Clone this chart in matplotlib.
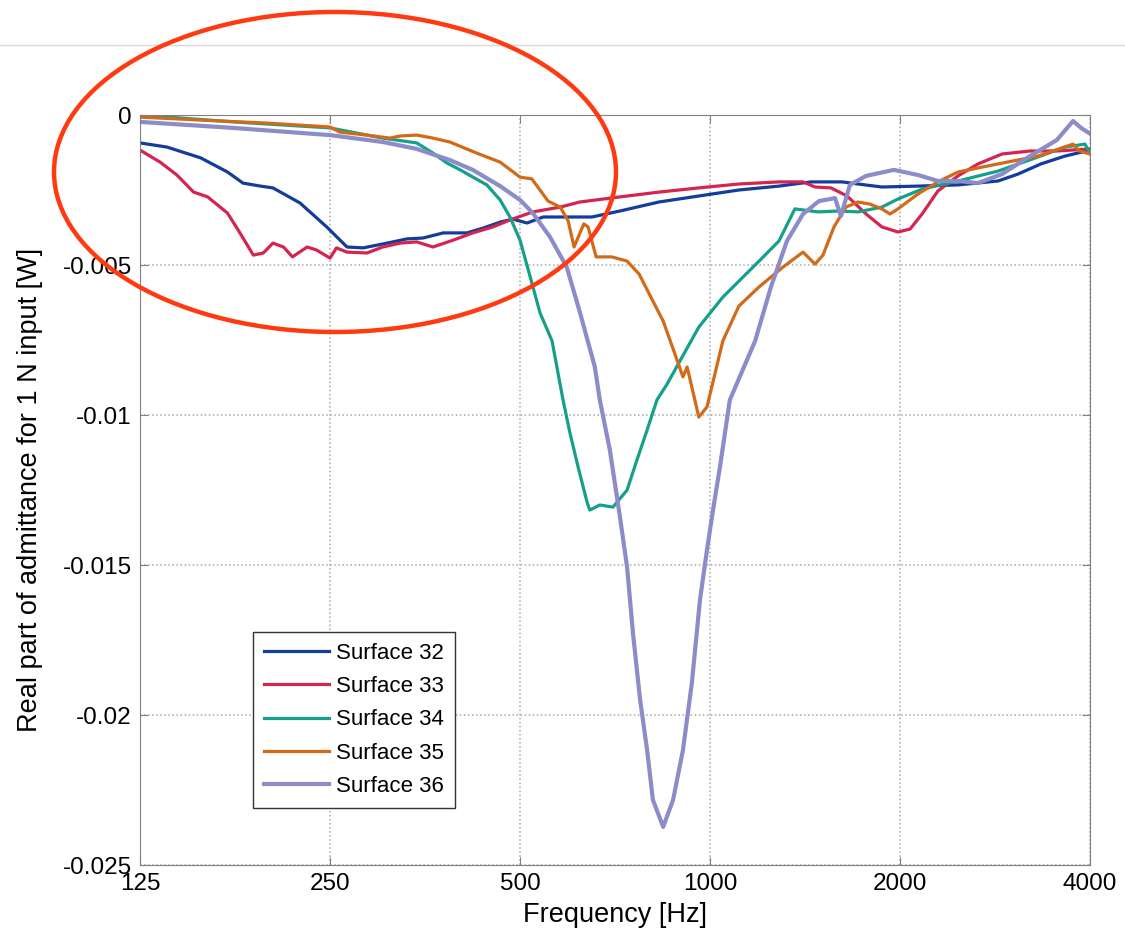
import matplotlib
matplotlib.use("Agg")
import matplotlib.pyplot as plt
from matplotlib.patches import Ellipse
from matplotlib.lines import Line2D
from matplotlib.ticker import NullLocator

plt.rcParams['font.family'] = ['Liberation Sans', 'DejaVu Sans']

# frequenze [Hz] e parte reale dell'ammettenza per ciascuna superficie
f32 = [125, 138, 156, 172, 182, 194, 203, 224, 247, 266, 282, 308, 331, 351, 378, 412, 437, 465, 487, 513,
       544, 593, 650, 720, 830, 960, 1111, 1286, 1445, 1619, 1716, 1872, 2136, 2471, 2860, 3075, 3345, 3650, 4000]
y32 = [-0.00093, -0.00107, -0.00143, -0.0019, -0.00227, -0.00237, -0.00243, -0.00293, -0.00373, -0.0044,
       -0.00443, -0.00427, -0.00413, -0.0041, -0.00393, -0.00393, -0.00377, -0.00357, -0.00347, -0.0036,
       -0.0034, -0.0034, -0.0034, -0.0032, -0.0029, -0.0027, -0.0025, -0.00237, -0.00223, -0.00223,
       -0.0023, -0.0024, -0.00237, -0.00233, -0.0022, -0.00197, -0.00163, -0.00137, -0.00117]

f33 = [125, 134.5, 143, 152, 160, 172, 180, 189, 196, 203, 211, 218, 230, 238, 250, 256, 266, 286, 303, 323,
       343, 364, 392, 421, 453, 482, 524, 579, 622, 720, 830, 960, 1111, 1286, 1404, 1467, 1555, 1649, 1767, 1872,
       1985, 2075, 2168, 2297, 2471, 2659, 2902, 3213, 3546, 4000]
y33 = [-0.00117, -0.00157, -0.002, -0.00257, -0.00273, -0.00327, -0.00393, -0.00467, -0.0046, -0.00427,
       -0.0044, -0.00473, -0.0044, -0.0045, -0.00477, -0.00443, -0.00457, -0.0046, -0.0044, -0.00427,
       -0.00423, -0.0044, -0.00417, -0.00393, -0.00373, -0.0035, -0.00323, -0.00307, -0.0029, -0.00273,
       -0.00257, -0.00243, -0.0023, -0.00223, -0.00223, -0.0024, -0.00243, -0.0027, -0.0033, -0.00373,
       -0.0039, -0.0038, -0.0033, -0.00253, -0.00203, -0.00163, -0.0013, -0.0012, -0.0012, -0.00113]

f34 = [125, 175.5, 250, 303, 343, 364, 383, 402, 421, 443, 465, 482, 500, 519, 538, 562, 585, 600, 618, 639,
       645, 669, 702, 739, 766, 795, 824, 855, 960, 1048, 1196, 1286, 1363, 1483, 1595, 1716, 1872, 1985, 2168,
       2471, 2860, 3308, 3650, 3927, 4000]
y34 = [0.0, -0.00023, -0.00043, -0.00077, -0.00093, -0.00127, -0.0016, -0.00183, -0.00207, -0.00233,
       -0.00283, -0.0034, -0.00417, -0.0054, -0.0066, -0.00753, -0.0095, -0.0106, -0.01173, -0.01293,
       -0.01317, -0.013, -0.01307, -0.0125, -0.0115, -0.0105, -0.0095, -0.00897, -0.00707, -0.00607,
       -0.00487, -0.0042, -0.00313, -0.00323, -0.0032, -0.00323, -0.00307, -0.0028, -0.00247,
       -0.0022, -0.00187, -0.0014, -0.00107, -0.00097, -0.00127]

f35 = [125, 156, 199, 250, 259, 286, 311, 323, 343, 364, 387, 427, 465, 500, 522, 554, 579, 596, 609, 631,
       641, 660, 699, 739, 772, 806, 843, 880, 906, 920, 947, 960, 989, 1048, 1111, 1196, 1305, 1404, 1467, 1510,
       1572, 1642, 1716, 1793, 1872, 1928, 1985, 2136, 2297, 2471, 2860, 3308, 3760, 3850, 4000]
y35 = [-0.00007, -0.00017, -0.00027, -0.0004, -0.00057, -0.00067, -0.00077, -0.0007, -0.00067, -0.00077,
       -0.0009, -0.00127, -0.00157, -0.00207, -0.00213, -0.00287, -0.00307, -0.00353, -0.0044, -0.00363,
       -0.00373, -0.00473, -0.00473, -0.00487, -0.0053, -0.00607, -0.00687, -0.00797, -0.00873, -0.0084,
       -0.00953, -0.01007, -0.00973, -0.00753, -0.00637, -0.00573, -0.00507, -0.00457, -0.00497, -0.00467,
       -0.00373, -0.00307, -0.0029, -0.00297, -0.00313, -0.0033, -0.00313, -0.00263, -0.00223, -0.0019,
       -0.00163, -0.00137, -0.00097, -0.0012, -0.0013]

f36 = [125, 175.5, 250, 303, 343, 387, 421, 465, 500, 524, 558, 593, 622, 657, 669, 694, 720, 739, 755, 775,
       795, 812, 843, 874, 906, 936, 964, 989, 1011, 1037, 1075, 1179, 1249, 1324, 1404, 1488, 1578, 1612, 1666,
       1767, 1956, 2136, 2297, 2471, 2659, 2902, 3213, 3546, 3760, 3871, 3986]
y36 = [-0.00023, -0.00043, -0.00067, -0.0009, -0.00113, -0.0015, -0.00183, -0.00237, -0.00283, -0.00327,
       -0.00407, -0.00507, -0.00657, -0.0084, -0.0095, -0.01117, -0.0134, -0.01507, -0.01727, -0.0195,
       -0.02117, -0.02283, -0.02373, -0.02283, -0.02117, -0.01893, -0.01617, -0.0145, -0.01317, -0.01173,
       -0.0095, -0.00753, -0.00573, -0.0042, -0.0033, -0.00287, -0.00277, -0.00337, -0.00233,
       -0.00203, -0.00183, -0.002, -0.0022, -0.0022, -0.00227, -0.00197, -0.00137, -0.00083, -0.0002,
       -0.00043, -0.0006]

labels = ["Surface 32", "Surface 33", "Surface 34", "Surface 35", "Surface 36"]
colori = ["#143c9c", "#d42450", "#14a08a", "#d26a18", "#8c8cc8"]
spessori = [2.3, 2.3, 2.3, 2.3, 3.0]

xticks = [125, 250, 500, 1000, 2000, 4000]
yticks = [-0.025, -0.02, -0.015, -0.01, -0.005, 0]
ytick_labels = ["-0.025", "-0.02", "-0.015", "-0.01", "-0.005", "0"]

fig = plt.figure(figsize=(11.25, 9.39), dpi=100)
ax = fig.add_axes([140 / 1125, 1 - 865 / 939, 950 / 1125, 750 / 939])

serie = [(f32, y32), (f33, y33), (f34, y34), (f35, y35), (f36, y36)]
for (f, y), lab, c, lw in zip(serie, labels, colori, spessori):
    ax.plot(f, y, color=c, lw=lw, label=lab)

ax.set_xscale("log")
ax.set_xlim(125, 4000)
ax.set_ylim(-0.025, 0)
ax.set_xticks(xticks)
ax.set_xticklabels([str(t) for t in xticks])
ax.xaxis.set_minor_locator(NullLocator())
ax.set_yticks(yticks)
ax.set_yticklabels(ytick_labels)
ax.tick_params(direction="in", top=True, right=True, length=6, color="#808080",
               labelsize=17.5, pad=6)
ax.grid(True, linestyle=":", color="#a8a8a8", linewidth=1.1)
for s in ax.spines.values():
    s.set_color("#808080")

ax.set_xlabel("Frequency [Hz]", fontsize=19.5, labelpad=5)
ax.set_ylabel("Real part of admittance for 1 N input [W]", fontsize=19.5, labelpad=14)

leg = ax.legend(loc="lower left", bbox_to_anchor=(113 / 950, 57 / 750), borderaxespad=0,
                fontsize=16, fancybox=False, edgecolor="#333333", framealpha=1,
                handlelength=2.9, handletextpad=0.35, labelspacing=0.55, borderpad=0.5)
leg.get_frame().set_linewidth(1.0)

# linea grigia in alto e ellisse rossa di evidenziazione
fig.add_artist(Line2D([0, 1], [1 - 45 / 939, 1 - 45 / 939], transform=fig.transFigure,
                      color="#d9d9d9", lw=1))
fig.add_artist(Ellipse((335 / 1125, 1 - 172 / 939), 562 / 1125, 320 / 939,
                       transform=fig.transFigure, fill=False, ec="#ff3a10", lw=3.2, zorder=10))

fig.savefig("out.png", dpi=100)
